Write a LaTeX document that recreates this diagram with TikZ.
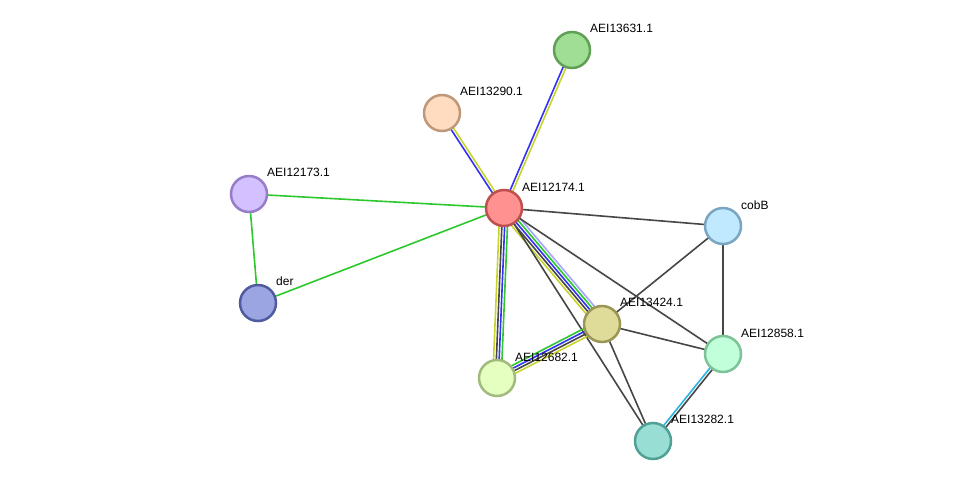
\documentclass[tikz,border=0pt]{standalone}
\usepackage{fontspec}
\setmainfont{Liberation Sans}
\usetikzlibrary{calc,backgrounds}
\definecolor{ctext}{RGB}{199,212,44}
\definecolor{ccoex}{RGB}{70,70,70}
\definecolor{ccooc}{RGB}{50,50,245}
\definecolor{cneigh}{RGB}{45,200,45}
\definecolor{chomol}{RGB}{165,165,255}
\definecolor{cdb}{RGB}{40,180,225}
\definecolor{fA}{RGB}{255,145,145}\definecolor{sA}{RGB}{190,80,80}
\definecolor{fB}{RGB}{160,222,150}\definecolor{sB}{RGB}{95,160,85}
\definecolor{fC}{RGB}{255,220,192}\definecolor{sC}{RGB}{190,152,122}
\definecolor{fD}{RGB}{210,192,255}\definecolor{sD}{RGB}{150,125,200}
\definecolor{fE}{RGB}{155,165,225}\definecolor{sE}{RGB}{80,90,160}
\definecolor{fF}{RGB}{192,232,255}\definecolor{sF}{RGB}{122,165,195}
\definecolor{fG}{RGB}{222,220,152}\definecolor{sG}{RGB}{155,150,85}
\definecolor{fH}{RGB}{228,255,192}\definecolor{sH}{RGB}{160,187,125}
\definecolor{fI}{RGB}{192,255,218}\definecolor{sI}{RGB}{125,195,152}
\definecolor{fJ}{RGB}{152,222,212}\definecolor{sJ}{RGB}{80,160,150}
\tikzset{
  prot/.style={circle,minimum size=36pt,inner sep=0pt,line width=2.5pt},
  lbl/.style={anchor=west,inner sep=0pt,font=\fontsize{12pt}{12pt}\selectfont},
  edge/.style={line width=1.6pt},
}
\newcommand{\multiedge}[4]{%
  \foreach \c [count=\i] in {#4}{%
    \pgfmathsetmacro\off{(\i-(#3+1)/2)*2.8}%
    \draw[edge,draw=\c] ($(#1.center)!\off pt!90:(#2.center)$) -- ($(#2.center)!\off pt!-90:(#1.center)$);
  }%
}
\begin{document}
\begin{tikzpicture}[x=1pt,y=-1pt]
\useasboundingbox (0,0) rectangle (976,486);
\node[prot,fill=fA,draw=sA] (n12174) at (504,208) {};
\node[prot,fill=fB,draw=sB] (n13631) at (572,50) {};
\node[prot,fill=fC,draw=sC] (n13290) at (442,113) {};
\node[prot,fill=fD,draw=sD] (n12173) at (249,194) {};
\node[prot,fill=fE,draw=sE] (nder) at (258,303) {};
\node[prot,fill=fF,draw=sF] (ncobB) at (723,226) {};
\node[prot,fill=fG,draw=sG] (n13424) at (602,324) {};
\node[prot,fill=fH,draw=sH] (n12682) at (497,378) {};
\node[prot,fill=fI,draw=sI] (n12858) at (723,354) {};
\node[prot,fill=fJ,draw=sJ] (n13282) at (653,441) {};
\node[lbl] (l12174) at (522,187) {AEI12174.1};
\node[lbl] (l13631) at (590,28) {AEI13631.1};
\node[lbl] (l13290) at (460,91) {AEI13290.1};
\node[lbl] (l12173) at (267,172) {AEI12173.1};
\node[lbl] (lder) at (276,281) {der};
\node[lbl] (lcobB) at (741,205) {cobB};
\node[lbl] (l13424) at (620,302) {AEI13424.1};
\node[lbl] (l12682) at (515,357) {AEI12682.1};
\node[lbl] (l12858) at (741,333) {AEI12858.1};
\node[lbl] (l13282) at (671,419) {AEI13282.1};
\begin{scope}[on background layer]
\multiedge{n12174}{n13631}{2}{ctext,ccooc}
\multiedge{n12174}{n13290}{2}{ctext,ccooc}
\draw[edge,draw=cneigh] (n12173.center) -- (n12174.center);
\draw[edge,draw=cneigh] (nder.center) -- (n12173.center);
\draw[edge,draw=cneigh] (nder.center) -- (n12174.center);
\draw[edge,draw=ccoex] (n12174.center) -- (ncobB.center);
\multiedge{n12174}{n13424}{5}{ctext,ccoex,ccooc,cneigh,chomol}
\multiedge{n12174}{n12682}{4}{ctext,ccoex,ccooc,cneigh}
\draw[edge,draw=ccoex] (n12174.center) -- (n13282.center);
\draw[edge,draw=ccoex] (n12174.center) -- (n12858.center);
\multiedge{n13424}{n12682}{4}{cneigh,ccooc,ccoex,ctext}
\draw[edge,draw=ccoex] (n13424.center) -- (ncobB.center);
\draw[edge,draw=ccoex] (n13424.center) -- (n12858.center);
\draw[edge,draw=ccoex] (n13424.center) -- (n13282.center);
\draw[edge,draw=ccoex] (ncobB.center) -- (n12858.center);
\multiedge{n12858}{n13282}{2}{cdb,ccoex}
\end{scope}
\end{tikzpicture}
\end{document}
